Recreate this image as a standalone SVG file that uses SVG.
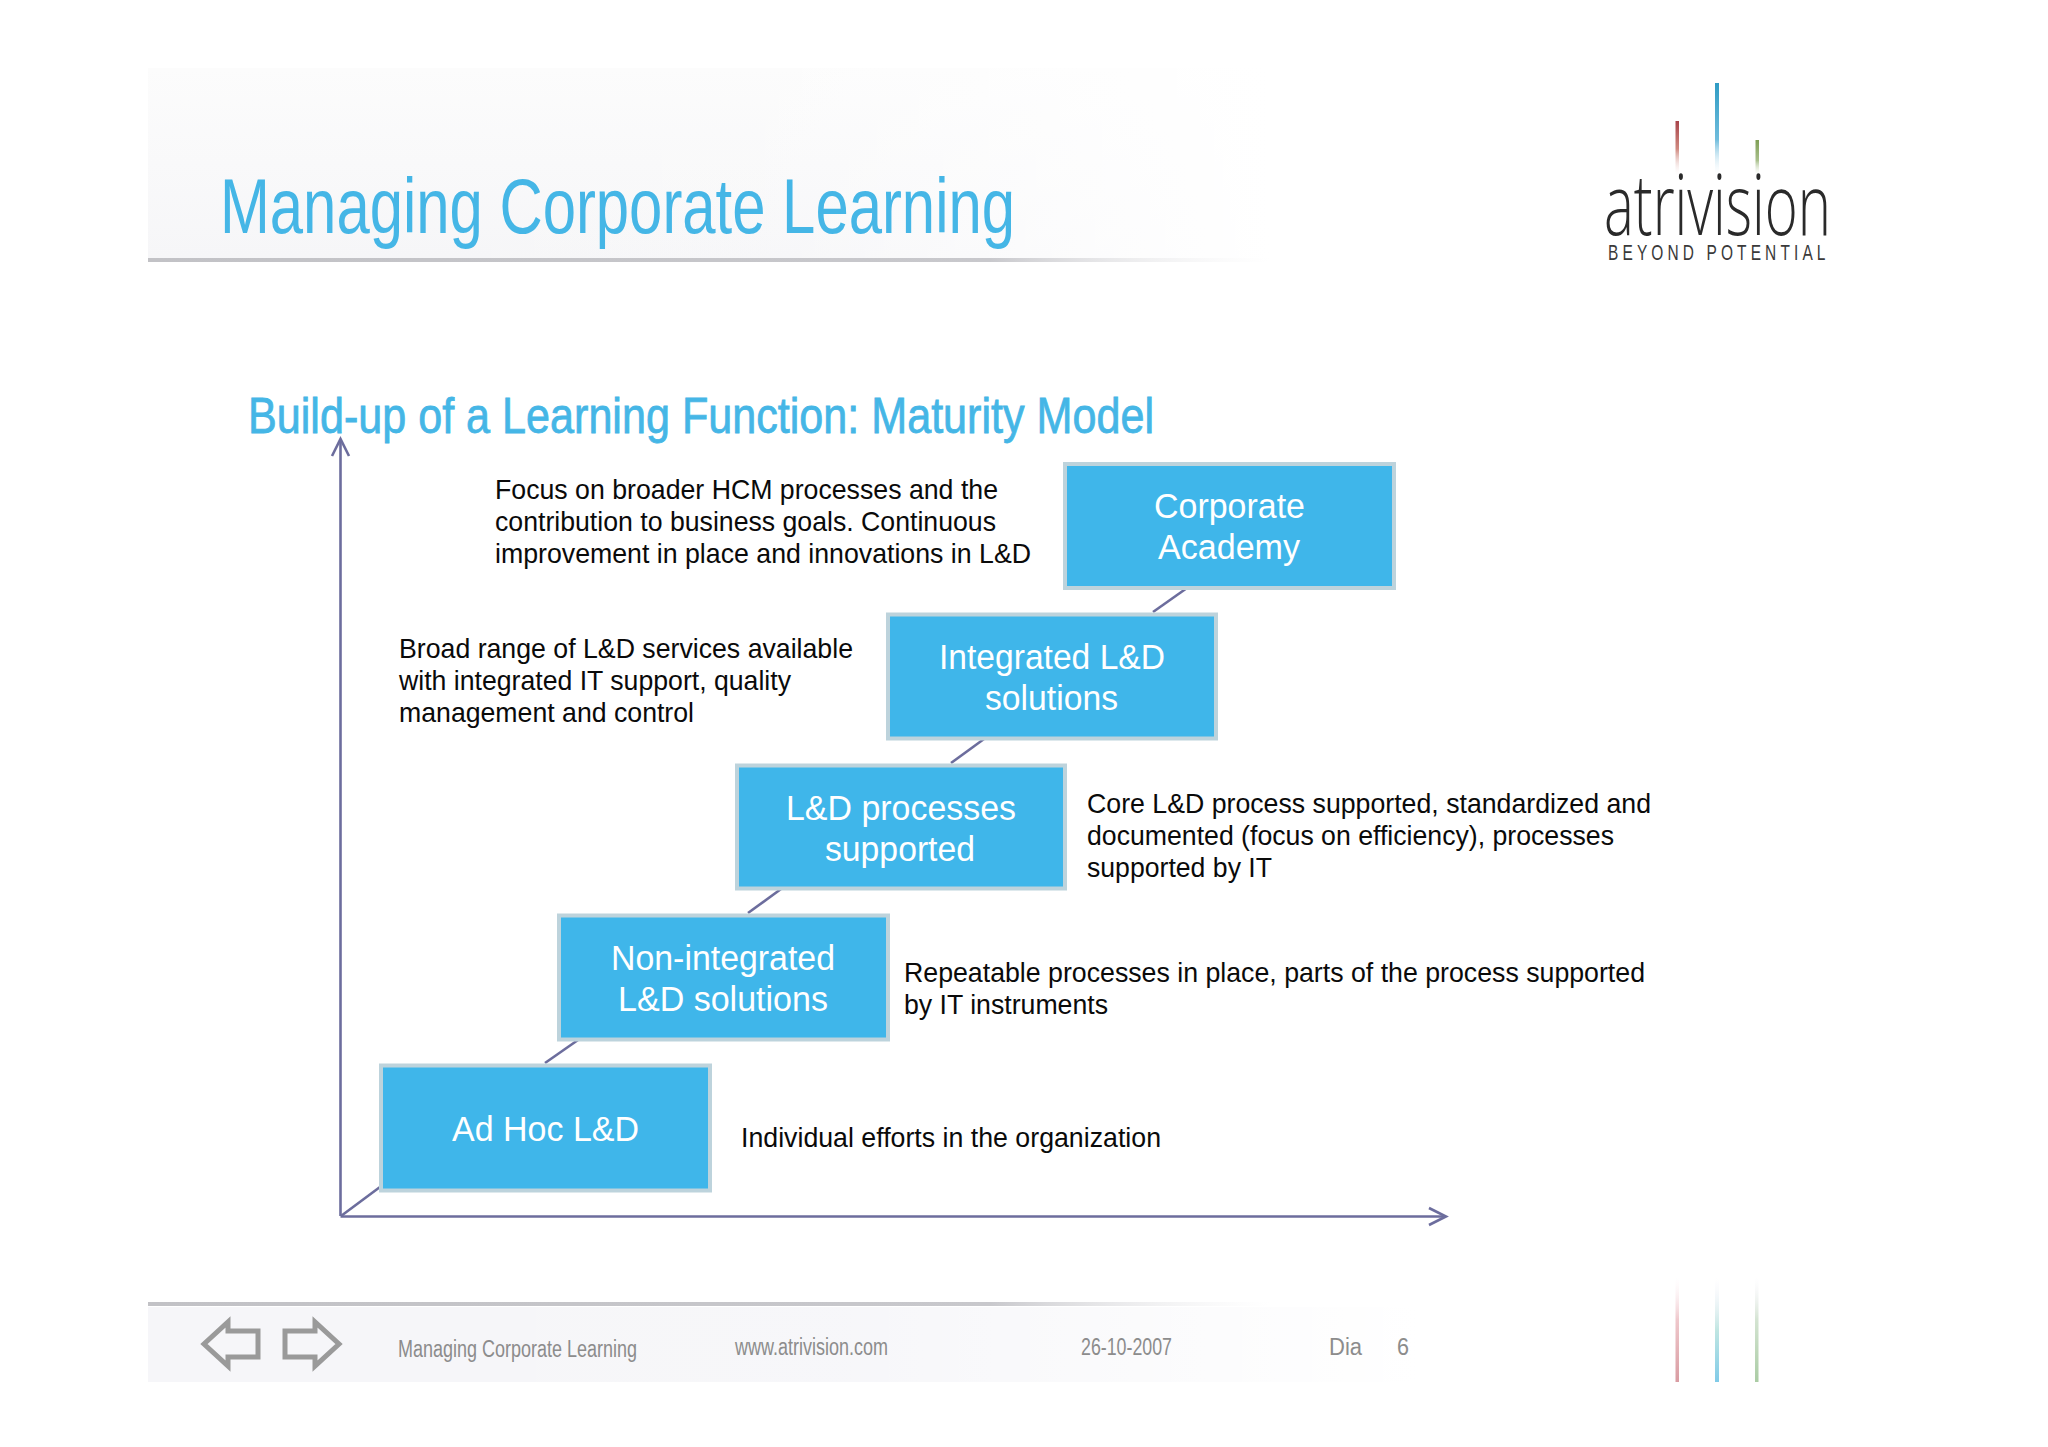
<svg xmlns="http://www.w3.org/2000/svg" width="2048" height="1447" viewBox="0 0 2048 1447">
<style>
text{font-family:"Liberation Sans",Arial,sans-serif}
.box{fill:#3fb6ea;stroke:#bdd3dc;stroke-width:4}
.bl{fill:#fff;font-size:35.5px}
.body{fill:#0a0a0a;font-size:27.5px}
.foot{fill:#8c8c8c;font-size:23px}
.conn{fill:none;stroke:#6c6d9d;stroke-width:2.6}
.nav{fill:none;stroke:#9a9a9a;stroke-width:5}
.title{fill:#45b6e6}
</style>
<defs>
<linearGradient id="bandV" x1="0" y1="0" x2="0" y2="1"><stop offset="0" stop-color="#fcfcfc"/><stop offset="1" stop-color="#f6f6f8"/></linearGradient>
<linearGradient id="fadeR" x1="0" y1="0" x2="1" y2="0"><stop offset="0" stop-color="#fff" stop-opacity="0"/><stop offset="0.55" stop-color="#fff" stop-opacity="0.1"/><stop offset="1" stop-color="#fff" stop-opacity="1"/></linearGradient>
<linearGradient id="line" x1="0" y1="0" x2="1" y2="0"><stop offset="0" stop-color="#c2c2c6"/><stop offset="0.75" stop-color="#c8c8cc"/><stop offset="1" stop-color="#ececee" stop-opacity="0"/></linearGradient>
<linearGradient id="red" x1="0" y1="0" x2="0" y2="1"><stop offset="0" stop-color="#a8444a"/><stop offset="0.5" stop-color="#d08a80"/><stop offset="1" stop-color="#fff" stop-opacity="0"/></linearGradient>
<linearGradient id="blue" x1="0" y1="0" x2="0" y2="1"><stop offset="0" stop-color="#2f9cc4"/><stop offset="0.6" stop-color="#6fbcdc"/><stop offset="1" stop-color="#fff" stop-opacity="0"/></linearGradient>
<linearGradient id="green" x1="0" y1="0" x2="0" y2="1"><stop offset="0" stop-color="#7f9f55"/><stop offset="0.55" stop-color="#a9c08c"/><stop offset="1" stop-color="#fff" stop-opacity="0"/></linearGradient>
<linearGradient id="redF" x1="0" y1="1" x2="0" y2="0"><stop offset="0" stop-color="#d99ca2"/><stop offset="0.6" stop-color="#efc8cc"/><stop offset="1" stop-color="#fdeef2" stop-opacity="0"/></linearGradient>
<linearGradient id="blueF" x1="0" y1="1" x2="0" y2="0"><stop offset="0" stop-color="#80cbe8"/><stop offset="0.5" stop-color="#c0e6e2"/><stop offset="1" stop-color="#f2eefa" stop-opacity="0"/></linearGradient>
<linearGradient id="greenF" x1="0" y1="1" x2="0" y2="0"><stop offset="0" stop-color="#aacca4"/><stop offset="0.6" stop-color="#d4e4d2"/><stop offset="1" stop-color="#f0eef6" stop-opacity="0"/></linearGradient>
<marker id="open" markerWidth="24" markerHeight="24" refX="18" refY="9" orient="auto" markerUnits="userSpaceOnUse" viewBox="0 0 24 18"><path d="M1,0.5 L18,9 L1,17.5" fill="none" stroke="#6c6d9d" stroke-width="2.6"/></marker>
</defs>

<g id="header">
<rect x="148" y="68" width="1122" height="190" fill="url(#bandV)"/>
<rect x="148" y="68" width="1122" height="190" fill="url(#fadeR)"/>
<rect x="148" y="258" width="1122" height="4" fill="url(#line)"/>
<text class="title" x="220" y="233" font-size="77" textLength="795" lengthAdjust="spacingAndGlyphs">Managing Corporate Learning</text>
</g>

<g id="logo">
<rect x="1675.5" y="121" width="3.5" height="56" fill="url(#red)"/>
<rect x="1715" y="83" width="4" height="94" fill="url(#blue)"/>
<rect x="1755.5" y="140" width="3.5" height="37" fill="url(#green)"/>
<text x="1604" y="235" font-size="84" textLength="227" lengthAdjust="spacingAndGlyphs" fill="#2a2a2a" style="font-family:'Open Sans','Liberation Sans',sans-serif;font-weight:300">atrivision</text>
<text transform="translate(1608,260) scale(0.72,1)" x="0" y="0" font-size="21.5" textLength="302" lengthAdjust="spacing" fill="#3a3a3a">BEYOND POTENTIAL</text>
</g>

<text id="subtitle" class="title" x="248" y="433" font-size="49.5" textLength="906" lengthAdjust="spacingAndGlyphs" stroke="#45b6e6" stroke-width="0.8">Build-up of a Learning Function: Maturity Model</text>

<g id="connectors">
<path class="conn" d="M340.5,1216 V439" marker-end="url(#open)"/>
<path class="conn" d="M340.5,1216.5 H1446" marker-end="url(#open)"/>
<path class="conn" d="M341,1216 L380,1187"/>
<path class="conn" d="M545,1063 L578,1040"/>
<path class="conn" d="M748,913 L781,889"/>
<path class="conn" d="M951,763 L984,739"/>
<path class="conn" d="M1153,612 L1187,588"/>
</g>

<g id="node-corporate-academy">
<rect class="box" x="1065" y="464" width="329" height="124"/>
<text class="bl" x="1154" y="518" textLength="151" lengthAdjust="spacingAndGlyphs">Corporate</text>
<text class="bl" x="1158" y="559" textLength="142" lengthAdjust="spacingAndGlyphs">Academy</text>
</g>
<g id="node-integrated">
<rect class="box" x="888" y="614.5" width="328" height="124"/>
<text class="bl" x="939" y="669" textLength="226" lengthAdjust="spacingAndGlyphs">Integrated L&amp;D</text>
<text class="bl" x="985" y="710" textLength="133" lengthAdjust="spacingAndGlyphs">solutions</text>
</g>
<g id="node-processes">
<rect class="box" x="737" y="765.5" width="328" height="123"/>
<text class="bl" x="786" y="819.5" textLength="230" lengthAdjust="spacingAndGlyphs">L&amp;D processes</text>
<text class="bl" x="825" y="860.5" textLength="150" lengthAdjust="spacingAndGlyphs">supported</text>
</g>
<g id="node-non-integrated">
<rect class="box" x="559" y="915.5" width="329" height="124"/>
<text class="bl" x="611" y="970" textLength="224" lengthAdjust="spacingAndGlyphs">Non-integrated</text>
<text class="bl" x="618" y="1011" textLength="210" lengthAdjust="spacingAndGlyphs">L&amp;D solutions</text>
</g>
<g id="node-ad-hoc">
<rect class="box" x="381" y="1065.5" width="329" height="125"/>
<text class="bl" x="452" y="1141" textLength="187" lengthAdjust="spacingAndGlyphs">Ad Hoc L&amp;D</text>
</g>

<g id="descriptions">
<text class="body" x="495" y="498.5" textLength="503" lengthAdjust="spacingAndGlyphs">Focus on broader HCM processes and the</text>
<text class="body" x="495" y="530.5" textLength="501" lengthAdjust="spacingAndGlyphs">contribution to business goals. Continuous</text>
<text class="body" x="495" y="562.5" textLength="536" lengthAdjust="spacingAndGlyphs">improvement in place and innovations in L&amp;D</text>
<text class="body" x="399" y="657.5" textLength="454" lengthAdjust="spacingAndGlyphs">Broad range of L&amp;D services available</text>
<text class="body" x="399" y="689.5" textLength="392" lengthAdjust="spacingAndGlyphs">with integrated IT support, quality</text>
<text class="body" x="399" y="721.5" textLength="295" lengthAdjust="spacingAndGlyphs">management and control</text>
<text class="body" x="1087" y="813" textLength="564" lengthAdjust="spacingAndGlyphs">Core L&amp;D process supported, standardized and</text>
<text class="body" x="1087" y="845" textLength="527" lengthAdjust="spacingAndGlyphs">documented (focus on efficiency), processes</text>
<text class="body" x="1087" y="877" textLength="185" lengthAdjust="spacingAndGlyphs">supported by IT</text>
<text class="body" x="904" y="982" textLength="741" lengthAdjust="spacingAndGlyphs">Repeatable processes in place, parts of the process supported</text>
<text class="body" x="904" y="1014" textLength="204" lengthAdjust="spacingAndGlyphs">by IT instruments</text>
<text class="body" x="741" y="1147" textLength="420" lengthAdjust="spacingAndGlyphs">Individual efforts in the organization</text>
</g>

<g id="footer">
<rect x="148" y="1307" width="1270" height="75" fill="#f6f6f9"/>
<rect x="148" y="1307" width="1270" height="75" fill="url(#fadeR)"/>
<rect x="148" y="1302" width="1122" height="4" fill="url(#line)"/>
<path class="nav" d="M258,1331 H228 V1322 L204,1344 L228,1366 V1357 H258 Z"/>
<path class="nav" d="M285,1331 H315 V1322 L339,1344 L315,1366 V1357 H285 Z"/>
<text class="foot" x="398" y="1357" textLength="239" lengthAdjust="spacingAndGlyphs">Managing Corporate Learning</text>
<text class="foot" x="735" y="1355" textLength="153" lengthAdjust="spacingAndGlyphs">www.atrivision.com</text>
<text class="foot" x="1081" y="1355" textLength="91" lengthAdjust="spacingAndGlyphs">26-10-2007</text>
<text class="foot" x="1329" y="1355" font-size="22" textLength="33" lengthAdjust="spacingAndGlyphs">Dia</text>
<text class="foot" x="1397" y="1355" textLength="12" lengthAdjust="spacingAndGlyphs">6</text>
<rect x="1675.5" y="1278" width="3.5" height="104" fill="url(#redF)"/>
<rect x="1715" y="1278" width="4" height="104" fill="url(#blueF)"/>
<rect x="1755" y="1278" width="3.5" height="104" fill="url(#greenF)"/>
</g>
</svg>
